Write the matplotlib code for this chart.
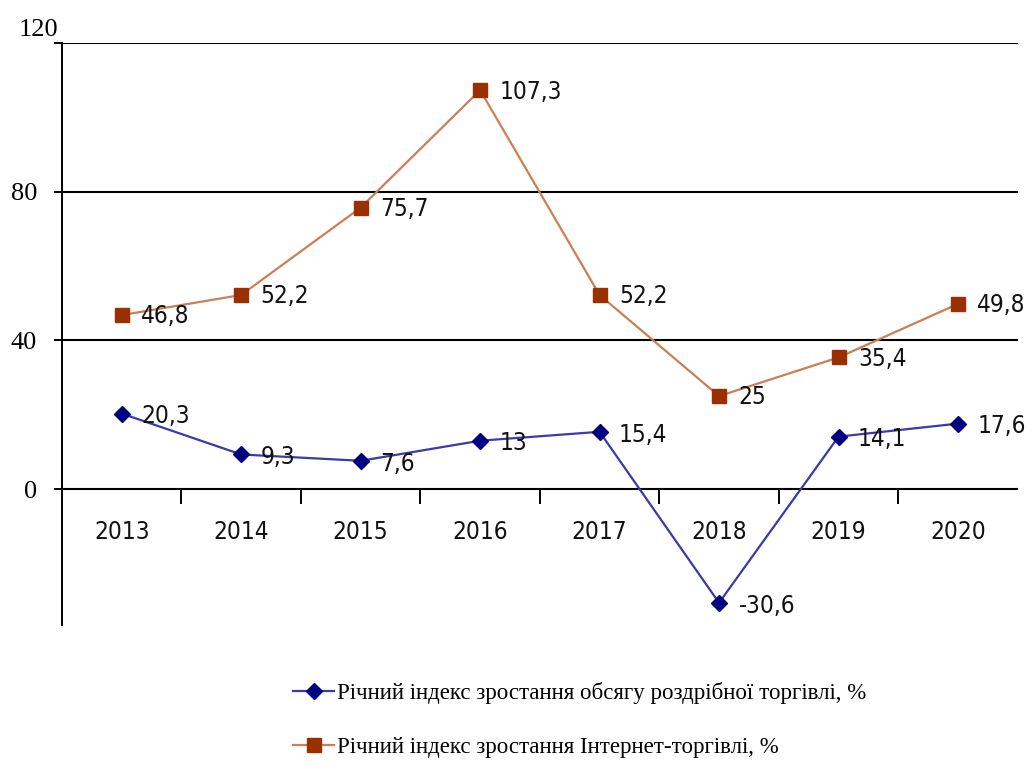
import matplotlib
matplotlib.use("Agg")
import matplotlib.pyplot as plt
import numpy as np

years = ['2013', '2014', '2015', '2016', '2017', '2018', '2019', '2020']
retail = [20.3, 9.3, 7.6, 13, 15.4, -30.6, 14.1, 17.6]
online = [46.8, 52.2, 75.7, 107.3, 52.2, 25, 35.4, 49.8]
retail_labels = ['20,3', '9,3', '7,6', '13', '15,4', '-30,6', '14,1', '17,6']
online_labels = ['46,8', '52,2', '75,7', '107,3', '52,2', '25', '35,4', '49,8']
yticks = [0, 40, 80, 120]

retail_name = 'Річний індекс зростання обсягу роздрібної торгівлі, %'
online_name = 'Річний індекс зростання Інтернет-торгівлі, %'

label_font = dict(family='DejaVu Sans', stretch='condensed', size=17.5)

fig = plt.figure(figsize=(10.28, 7.67), dpi=100)
ax = fig.add_axes([0.0603, 0.185, 0.9297, 0.759])

x = np.arange(len(years))
ax.plot(x, retail, color='#3a3aa8', lw=1.6, marker='D', ms=8,
        mfc='#000080', mec='#000080', label=retail_name, zorder=3)
ax.plot(x, online, color='#cc7f55', lw=1.6, marker='s', ms=9.5,
        mfc='#9a3000', mec='#9a3000', label=online_name, zorder=3)

for xi, v, t in zip(x, retail, retail_labels):
    ax.annotate(t, (xi, v), xytext=(14, -2), textcoords='offset points',
                ha='left', va='center', color='#111111', **label_font)
for xi, v, t in zip(x, online, online_labels):
    ax.annotate(t, (xi, v), xytext=(14, -1), textcoords='offset points',
                ha='left', va='center', color='#111111', **label_font)

ax.set_xlim(-0.5, len(years) - 0.5)
ax.set_ylim(-36.6, 120)

# horizontal grid lines, zero line doubles as the category axis
for y in yticks:
    ax.axhline(y, color='black', lw=1.5, zorder=1)

for side in ['top', 'right']:
    ax.spines[side].set_visible(False)
ax.spines['bottom'].set_position(('data', 0))
ax.spines['bottom'].set_visible(False)
ax.spines['left'].set_linewidth(1.4)

ax.set_xticks(x)
ax.set_xticklabels(years, color='#111111', **label_font)
ax.set_xticks(np.arange(len(years) - 1) + 0.5, minor=True)
ax.tick_params(axis='x', which='major', length=0, pad=22)
ax.tick_params(axis='x', which='minor', length=11, width=1.4, direction='out')

ax.set_yticks(yticks)
ax.set_yticklabels(['0', '40', '80', ''], family='Liberation Serif', size=19)
ax.tick_params(axis='y', length=6, width=1.4, pad=12)
ax.text(-0.004, 120.5, '120', transform=ax.get_yaxis_transform(),
        ha='right', va='bottom', family='Liberation Serif', size=19)

fig.legend(loc='center left', bbox_to_anchor=(293 / 1028, 1 - 720 / 767),
           frameon=False, borderpad=0, borderaxespad=0, handlelength=1.8,
           handletextpad=0.1, labelspacing=1.45,
           prop=dict(family='Liberation Serif', size=16.5))

fig.savefig('out.png', dpi=100)
